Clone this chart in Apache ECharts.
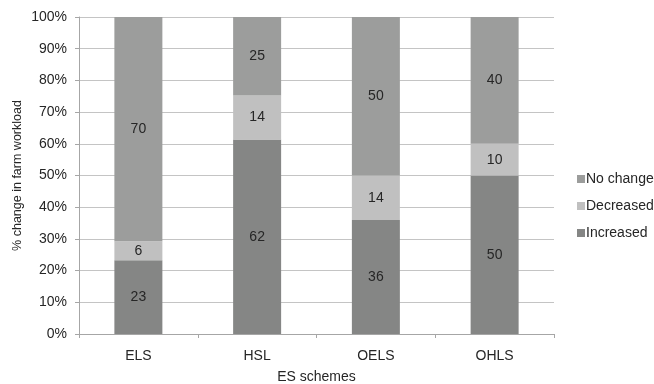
<!DOCTYPE html>
<html>
<head>
<meta charset="utf-8">
<script src="https://cdn.jsdelivr.net/npm/echarts@6/dist/echarts.min.js"></script>
<style>
  html, body { margin: 0; padding: 0; background: #fff; }
  #chart { width: 654px; height: 384px; }
</style>
</head>
<body>
<div id="chart"></div>
<script>
// Survey responses per ES scheme (counts shown as labels, bars scaled to 100%)
const schemes = ['ELS', 'HSL', 'OELS', 'OHLS'];
const increased = [23, 62, 36, 50];
const decreased = [6, 14, 14, 10];
const noChange = [70, 25, 50, 40];
const yTicks = ['0%', '10%', '20%', '30%', '40%', '50%', '60%', '70%', '80%', '90%', '100%'];

const totals = schemes.map((_, i) => increased[i] + decreased[i] + noChange[i]);
const toShare = arr => arr.map((v, i) => ({ value: v / totals[i] * 100, raw: v }));

const font = 'Liberation Sans, Arial, sans-serif';
const labelCfg = {
  show: true,
  position: 'inside',
  color: '#262626',
  fontSize: 14,
  fontFamily: font,
  formatter: p => p.data.raw
};

function seriesOf(name, arr, color) {
  return {
    name: name,
    type: 'bar',
    stack: 'total',
    barWidth: 48,
    data: toShare(arr),
    itemStyle: { color: color },
    label: labelCfg,
    emphasis: { disabled: true }
  };
}

const chart = echarts.init(document.getElementById('chart'), null, { renderer: 'canvas' });
chart.setOption({
  animation: false,
  backgroundColor: '#fff',
  grid: { left: 79, right: 100, top: 17, bottom: 50, containLabel: false, outerBoundsMode: 'none' },
  legend: {
    orient: 'vertical',
    left: 572,
    top: 167,
    itemWidth: 8,
    itemHeight: 8,
    itemGap: 13,
    icon: 'rect',
    textStyle: { fontSize: 14, fontFamily: font, color: '#262626', padding: [0, 0, 0, -4] },
    data: ['No change', 'Decreased', 'Increased']
  },
  xAxis: {
    type: 'category',
    data: schemes,
    name: 'ES schemes',
    nameLocation: 'middle',
    nameGap: 36,
    nameTextStyle: { fontSize: 14, fontFamily: font, color: '#262626' },
    axisLine: { lineStyle: { color: '#a6a6a6' } },
    axisTick: { show: true, alignWithLabel: false, length: 4, lineStyle: { color: '#a6a6a6' } },
    axisLabel: { fontSize: 14, fontFamily: font, color: '#262626', margin: 15 }
  },
  yAxis: {
    type: 'value',
    min: 0,
    max: 100,
    interval: 10,
    name: '% change in farm workload',
    nameLocation: 'middle',
    nameGap: 55,
    nameMoveOverlap: false,
    nameTextStyle: { fontSize: 12.5, fontFamily: font, color: '#262626' },
    axisLine: { show: true, lineStyle: { color: '#a6a6a6' } },
    axisTick: { show: true, length: 4, lineStyle: { color: '#a6a6a6' } },
    axisLabel: {
      fontSize: 14, fontFamily: font, color: '#262626', margin: 12,
      formatter: v => yTicks[Math.round(v / 10)]
    },
    splitLine: { lineStyle: { color: '#c4c4c4', width: 1 } }
  },
  series: [
    seriesOf('Increased', increased, '#858685'),
    seriesOf('Decreased', decreased, '#c0c0c0'),
    seriesOf('No change', noChange, '#9c9d9c')
  ]
});
</script>
</body>
</html>
